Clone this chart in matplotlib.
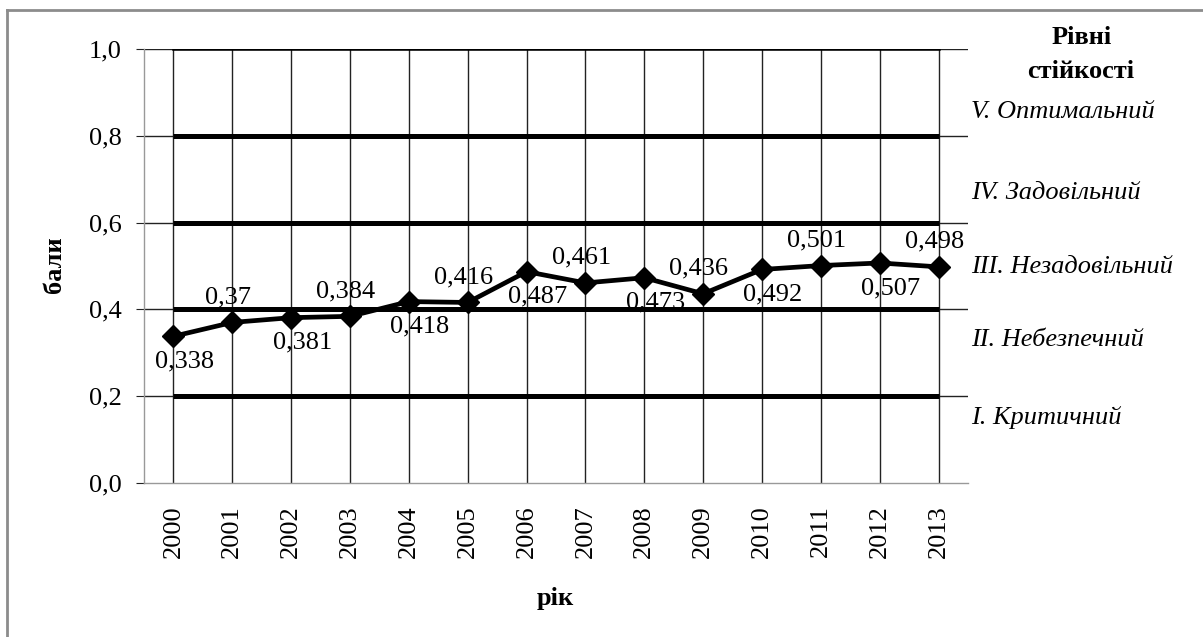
import matplotlib
matplotlib.use('Agg')
import matplotlib.pyplot as plt
from matplotlib.lines import Line2D

plt.rcParams['font.family'] = ['Liberation Serif', 'DejaVu Serif']

# data
years = ['2000', '2001', '2002', '2003', '2004', '2005', '2006',
         '2007', '2008', '2009', '2010', '2011', '2012', '2013']
values = [0.338, 0.37, 0.381, 0.384, 0.418, 0.416, 0.487,
          0.461, 0.473, 0.436, 0.492, 0.501, 0.507, 0.498]
value_labels = ['0,338', '0,37', '0,381', '0,384', '0,418', '0,416', '0,487',
                '0,461', '0,473', '0,436', '0,492', '0,501', '0,507', '0,498']
bounds = [0.2, 0.4, 0.6, 0.8]
levels = ['I. Критичний', 'II. Небезпечний', 'III. Незадовільний',
          'IV. Задовільний', 'V. Оптимальний']
level_y = [0.150, 0.329, 0.498, 0.668, 0.855]
yticks = [0.0, 0.2, 0.4, 0.6, 0.8, 1.0]
ytick_labels = ['0,0', '0,2', '0,4', '0,6', '0,8', '1,0']

W, H = 1203, 637
fig = plt.figure(figsize=(W / 100, H / 100), dpi=100)
ax = fig.add_axes([144 / W, (H - 483) / H, (968 - 144) / W, (483 - 49) / H])

x = list(range(len(years)))

# grid: horizontal lines across, vertical lines at each year
for yv in yticks[1:]:
    ax.axhline(yv, color='#222222', lw=1.0, zorder=1)
for xi in x:
    ax.plot([xi, xi], [0, 1.0], color='#222222', lw=1.0, zorder=1)

# level boundaries
for b in bounds:
    ax.plot([x[0], x[-1]], [b, b], color='black', lw=3.6, solid_capstyle='butt', zorder=2)
ax.plot([x[0], x[-1]], [1.0, 1.0], color='black', lw=1.8, zorder=2)

# series
ax.plot(x, values, color='black', lw=3.4, marker='D', markersize=11, zorder=4)

for i, (v, lab) in enumerate(zip(values, value_labels)):
    if i % 2 == 0:
        ax.annotate(lab, (i, v), xytext=(8, -18), textcoords='offset points',
                    ha='center', va='center', fontsize=19, zorder=5)
    else:
        ax.annotate(lab, (i, v), xytext=(-3, 18), textcoords='offset points',
                    ha='center', va='center', fontsize=19, zorder=5)

ax.set_xlim(-0.5, len(years) - 0.5)
ax.set_ylim(0, 1.0)
ax.set_yticks(yticks)
ax.set_yticklabels(ytick_labels, fontsize=19)
ax.set_xticks(x)
ax.set_xticklabels(years, rotation=90, fontsize=19)
ax.tick_params(axis='y', length=6, width=0.8, color='#222222', pad=10)
ax.tick_params(axis='x', length=0, pad=16)

for s in ['top', 'right']:
    ax.spines[s].set_visible(False)
for s in ['left', 'bottom']:
    ax.spines[s].set_color('#999999')
    ax.spines[s].set_linewidth(1.0)

# level names on the right
for name, yl in zip(levels, level_y):
    ax.text(13.55, yl, name, ha='left', va='center', fontsize=19,
            style='italic', clip_on=False)

fig.text(1082 / W, 1 - 37 / H, 'Рівні', ha='center', va='center',
         fontsize=19, fontweight='bold')
fig.text(1081 / W, 1 - 72 / H, 'стійкості', ha='center', va='center',
         fontsize=19, fontweight='bold')

fig.text(55 / W, 1 - 265 / H, 'бали', ha='center', va='center', rotation=90,
         fontsize=19, fontweight='bold')
fig.text(555 / W, 1 - 598 / H, 'рік', ha='center', va='center',
         fontsize=19, fontweight='bold')

# outer frame (only top and left edges are visible)
fig.add_artist(Line2D([7 / W, 7 / W], [0, 1 - 10 / H], color='#8c8c8c', lw=2.0))
fig.add_artist(Line2D([7 / W, 1], [1 - 10 / H, 1 - 10 / H], color='#8c8c8c', lw=2.0))

fig.savefig('out.png', dpi=100)
